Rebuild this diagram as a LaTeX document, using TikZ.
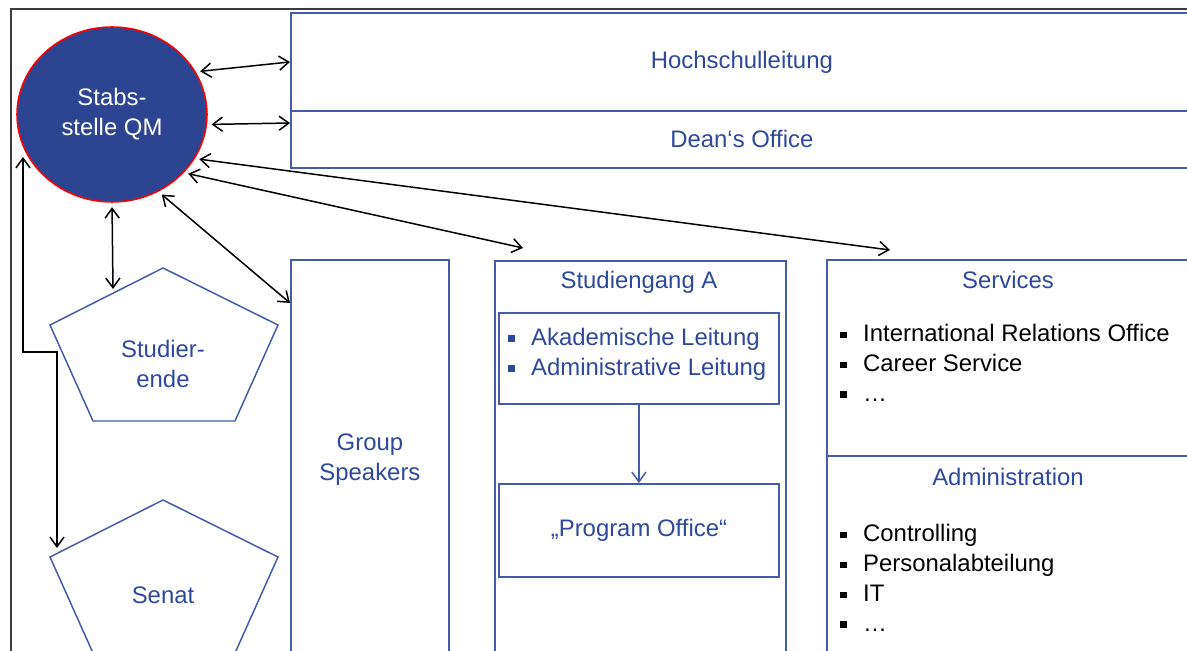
\documentclass[tikz,border=0pt]{standalone}
\usepackage{fontspec}
\setmainfont{Liberation Sans}
\usetikzlibrary{shapes.geometric,arrows.meta,positioning,calc}
\definecolor{qmBlue}{RGB}{44, 69, 147}
\definecolor{lineBlue}{RGB}{68, 90, 170}
\definecolor{textBlue}{RGB}{46, 72, 155}
\definecolor{frameGray}{RGB}{60, 60, 60}
\newcommand{\diagfont}{\fontsize{13.6}{17}\selectfont}
\newcommand{\sqbullet}{\makebox[13pt][l]{\rule[0.15em]{0.27em}{0.27em}}}

\begin{document}
\begin{tikzpicture}[x=0.02cm, y=-0.02cm,
        box/.style={rectangle, draw=lineBlue, line width=1.1pt, anchor=north west, inner sep=0pt, text=textBlue, font=\diagfont, align=center},
        title/.style={text=textBlue, font=\diagfont, align=center},
        items/.style={font=\diagfont, align=left, anchor=west, inner sep=0pt},
        qmcircle/.style={ellipse, draw=red, line width=0.9pt, fill=qmBlue, text=white, minimum width=3.8cm, minimum height=3.5cm, inner sep=0pt, align=center, font=\diagfont},
        pent/.style={draw=lineBlue, line width=0.85pt, line join=miter},
        arrow/.style={{Straight Barb[length=5.5pt,width=8pt]}-{Straight Barb[length=5.5pt,width=8pt]}, line width=0.85pt, shorten <=2.5pt}
    ]
        \useasboundingbox (0,0) rectangle (1187,651);
        \clip (0,0) rectangle (1187,651);

        % Frame
        \draw[frameGray, line width=1.1pt] (11,660) -- (11,9) -- (1195,9);

        % Stabsstelle
        \node[qmcircle] (qm) at (112,114.5) {Stabs-\\stelle QM};

        % Top boxes
        \node[box, minimum width=18.04cm, minimum height=1.96cm] (hsl) at (290,12) {Hochschulleitung};
        \node[box, minimum width=18.04cm, minimum height=1.14cm] (dean) at (290,110) {Dean‘s Office};

        % Group speakers
        \node[box, minimum width=3.16cm, minimum height=8cm] (gs) at (290,259) {Group\\Speakers};

        % Studiengang A
        \node[box, minimum width=5.82cm, minimum height=8cm] (stgA) at (494,260) {};
        \node[title] (stgAtitle) at (639,282) {Studiengang A};
        \node[box, minimum width=5.6cm, minimum height=1.82cm] (lead) at (498,312) {};
        \node[items, text=textBlue] (leadlist) at (508,354) {\sqbullet Akademische Leitung\\\sqbullet Administrative Leitung};
        \node[box, minimum width=5.6cm, minimum height=1.86cm] (po) at (498,483) {„Program Office“};
        \draw[-{Straight Barb[length=5.5pt,width=8pt]}, draw=lineBlue, line width=0.85pt] (lead.south) -- (po.north);

        % Services and administration
        \node[box, minimum width=7.32cm, minimum height=3.92cm] (serv) at (826,259) {};
        \node[title] (servtitle) at (1008,280) {Services};
        \node[items] (servlist) at (840,363) {\sqbullet International Relations Office\\\sqbullet Career Service\\\sqbullet \dots};
        \node[box, minimum width=7.32cm, minimum height=4.08cm] (adm) at (826,455) {};
        \node[title] (admtitle) at (1008,477) {Administration};
        \node[items] (admlist) at (840,578) {\sqbullet Controlling\\\sqbullet Personalabteilung\\\sqbullet IT\\\sqbullet \dots};

        % Studierende and Senat
        \coordinate (studtop) at (163,268);
        \draw[pent] (studtop) -- ++(115,57) -- ++(-43,96) -- ++(-142,0) -- ++(-43,-96) -- cycle;
        \node[title] (stud) at (163,364) {Studier-\\ende};
        \coordinate (senattop) at (163,500);
        \draw[pent] (senattop) -- ++(115,57) -- ++(-43,96) -- ++(-142,0) -- ++(-43,-96) -- cycle;
        \node[title] (senat) at (163,595) {Senat};

        % Arrows
        \coordinate (studin) at (113,289);
        \coordinate (senatin) at (57,548);
        \coordinate (qmfoot) at (23,157);
        \draw[arrow] (qm.27) -- (hsl.west);
        \draw[arrow] (qm.-6) -- ($(dean.north west)+(0,13)$);
        \draw[arrow] (qm.-28) -- ($(serv.north west)+(64,-9)$);
        \draw[arrow] (qm.-39) -- ($(stgA.north west)+(29,-12)$);
        \draw[arrow] (qm.-59) -- ($(gs.north west)+(0,44)$);
        \draw[arrow] (qm.south) -- (studin);
        \draw[arrow, shorten <=0pt] (qmfoot) -- (23,352) -| (senatin);

    \end{tikzpicture}
\end{document}
